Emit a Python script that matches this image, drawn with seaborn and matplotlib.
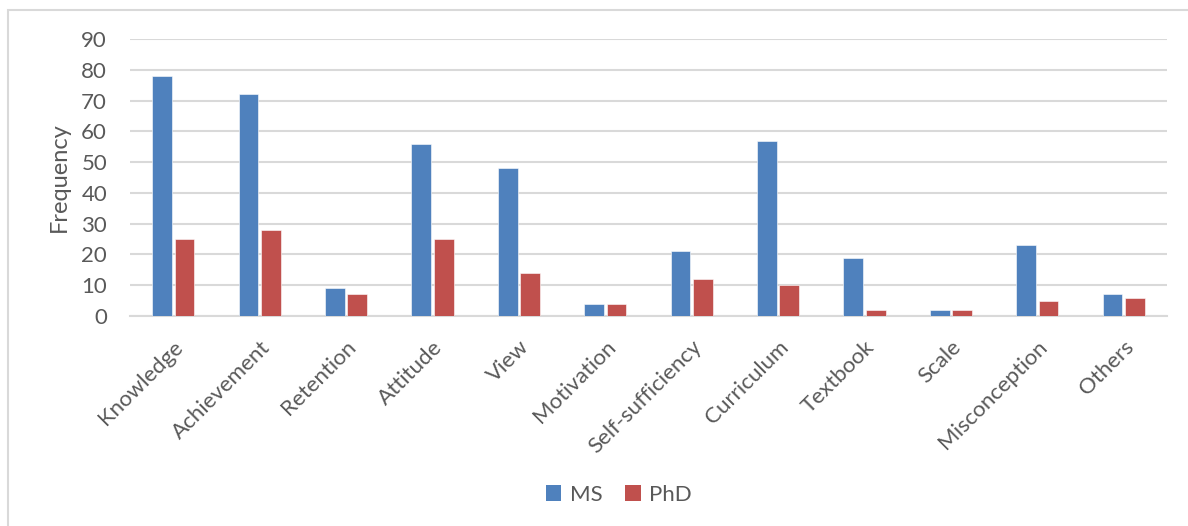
import matplotlib
matplotlib.use("Agg")
import matplotlib.pyplot as plt
import seaborn as sns
import pandas as pd
from matplotlib.patches import Patch, Rectangle

categories = ["Knowledge", "Achievement", "Retention", "Attitude", "View", "Motivation",
              "Self-sufficiency", "Curriculum", "Textbook", "Scale", "Misconception", "Others"]
ms_values = [78, 72, 9, 56, 48, 4, 21, 57, 19, 2, 23, 7]
phd_values = [25, 28, 7, 25, 14, 4, 12, 10, 2, 2, 5, 6]
series_names = ["MS", "PhD"]
y_ticks = [0, 10, 20, 30, 40, 50, 60, 70, 80, 90]

df = pd.DataFrame({
    "Category": categories * 2,
    "Frequency": ms_values + phd_values,
    "Series": [series_names[0]] * len(categories) + [series_names[1]] * len(categories),
})

sns.set_theme(style="white")
plt.rcParams['font.family'] = ['Lato', 'DejaVu Sans']
text_color = "#595959"
grid_color = "#D9D9D9"
colors = {"MS": "#4F81BD", "PhD": "#C0504D"}

fig = plt.figure(figsize=(11.88, 5.26), dpi=100)
ax = fig.add_axes([130/1188, 1 - 316/526, (1167-130)/1188, (316-39)/526])

sns.barplot(data=df, x="Category", y="Frequency", hue="Series", order=categories,
            hue_order=series_names, palette=colors, saturation=1, width=0.52, gap=0.12,
            edgecolor="white", linewidth=0.4, ax=ax, legend=False, zorder=3)

ax.set_ylim(0, 90)
ax.set_yticks(y_ticks)
ax.set_xlim(-0.5, len(categories) - 0.5)
ax.yaxis.grid(True, color=grid_color, linewidth=1.5, zorder=0)
ax.set_axisbelow(True)
for s in ["top", "right", "left"]:
    ax.spines[s].set_visible(False)
ax.spines["bottom"].set_color(grid_color)
ax.spines["bottom"].set_linewidth(1.5)
ax.tick_params(axis="y", length=0, pad=16.5, labelsize=16, labelcolor=text_color)
ax.tick_params(axis="x", length=0, pad=15, labelsize=16, labelcolor=text_color)
for lab in ax.get_xticklabels():
    lab.set_rotation(45)
    lab.set_ha("right")
    lab.set_va("top")
    lab.set_rotation_mode("anchor")
ax.set_xlabel("")
ax.set_ylabel("Frequency", fontsize=17, color=text_color)
ax.yaxis.set_label_coords((70 - 130) / 1037, 0.5)

handles = [Patch(facecolor=colors[n], edgecolor="none", label=n) for n in series_names]
fig.legend(handles=handles, loc="center", bbox_to_anchor=(619/1188, 1 - 495/526), ncol=2,
           frameon=False, fontsize=16, handlelength=0.7, handleheight=0.7,
           handletextpad=0.4, columnspacing=1.0, labelcolor=text_color)

fig.patches.append(Rectangle((8/1188, -0.1), 1.2, 1 - 10/526 + 0.1, transform=fig.transFigure,
                             fill=False, edgecolor="#D9D9D9", linewidth=1.5, zorder=-1))

fig.savefig("out.png", dpi=100)
